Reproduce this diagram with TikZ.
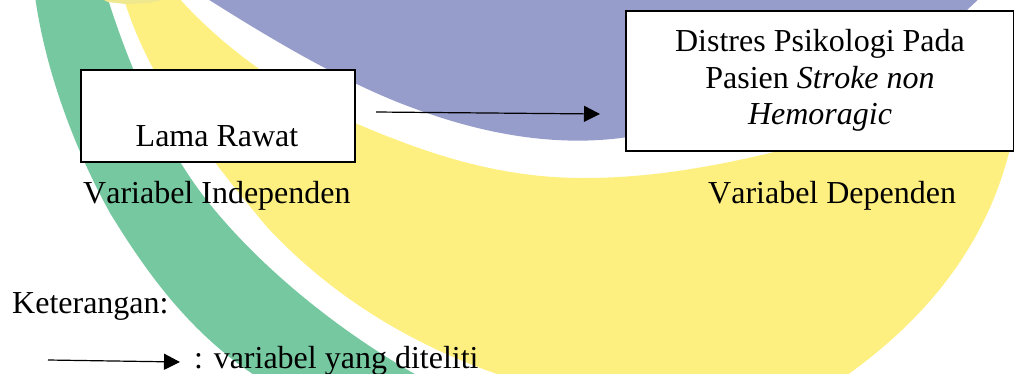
\documentclass[tikz,border=0pt]{standalone}
\usepackage{fontspec}
\setmainfont[Kerning=Off]{Liberation Serif}
\usetikzlibrary{arrows.meta}
\definecolor{bandgreen}{HTML}{76C8A0}
\definecolor{bandyellow}{HTML}{FEF080}
\definecolor{bandpurple}{HTML}{979DCB}
\definecolor{bandpale}{HTML}{EFE88E}
\tikzset{
  boxnode/.style={draw=black,line width=1.7pt,fill=white,inner sep=0pt,anchor=north west},
  txt/.style={inner sep=0pt,font=\fontsize{32}{36.5}\selectfont,text=black},
  link/.style={draw=black,line width=1.2pt,-{Triangle[length=16pt,width=16pt]}},
}
\begin{document}
\begin{tikzpicture}[x=1pt,y=-1pt]
\useasboundingbox (0,0) rectangle (1014,373);
\clip (0,0) rectangle (1014,373);
% background bands
\fill[bandgreen] (35,-4) .. controls (45,70) and (75,150) .. (110,213) .. controls (145,270) and (190,335) .. (262,380)
  -- (425,380) -- (413,373) .. controls (330,325) and (260,265) .. (213,208) .. controls (165,150) and (130,70) .. (107,-4) -- cycle;
\fill[bandyellow] (123,-4) .. controls (145,70) and (190,135) .. (267,227) .. controls (335,300) and (420,350) .. (515,380)
  -- (842,380) -- (850,373) .. controls (930,315) and (990,240) .. (1012,140) -- (900,100) -- (774,152)
  .. controls (700,170) and (640,178) .. (584,178) .. controls (500,178) and (430,155) .. (355,123) .. controls (290,95) and (225,50) .. (177,-4) -- cycle;
\fill[bandpurple] (203,-4) .. controls (280,45) and (350,85) .. (413,108) .. controls (480,133) and (560,150) .. (640,135)
  -- (800,100) -- (967,10) -- (982,-4) -- cycle;
\fill[bandpale] (100,-2) -- (108,2) -- (125,4) -- (150,3) -- (170,-2) -- cycle;
% boxes
\node[boxnode,minimum width=274pt,minimum height=92pt] (indep) at (80,69) {};
\node[boxnode,minimum width=388pt,minimum height=140pt] (dep) at (625,10) {};
% box text
\node[txt,anchor=base] (lama) at (217,146) {Lama Rawat};
\node[txt,anchor=base] (d1) at (820,51) {Distres Psikologi Pada};
\node[txt,anchor=base] (d2) at (820,88) {Pasien \textit{Stroke non}};
\node[txt,anchor=base] (d3) at (820,124) {\textit{Hemoragic}};
% labels
\node[txt,anchor=base west] (vi) at (83,203) {Variabel Independen};
\node[txt,anchor=base west] (vd) at (708,203) {Variabel Dependen};
\node[txt,anchor=base west] (ket) at (12,313) {Keterangan:};
\node[txt,anchor=base west] (leg) at (194,368) {: variabel yang diteliti};
% connectors
\coordinate (a1) at (376,112);
\coordinate (a2) at (600,114);
\coordinate (l1) at (48,360);
\coordinate (l2) at (180,362);
\draw[link] (a1) -- (a2);
\draw[link] (l1) -- (l2);
\end{tikzpicture}
\end{document}
